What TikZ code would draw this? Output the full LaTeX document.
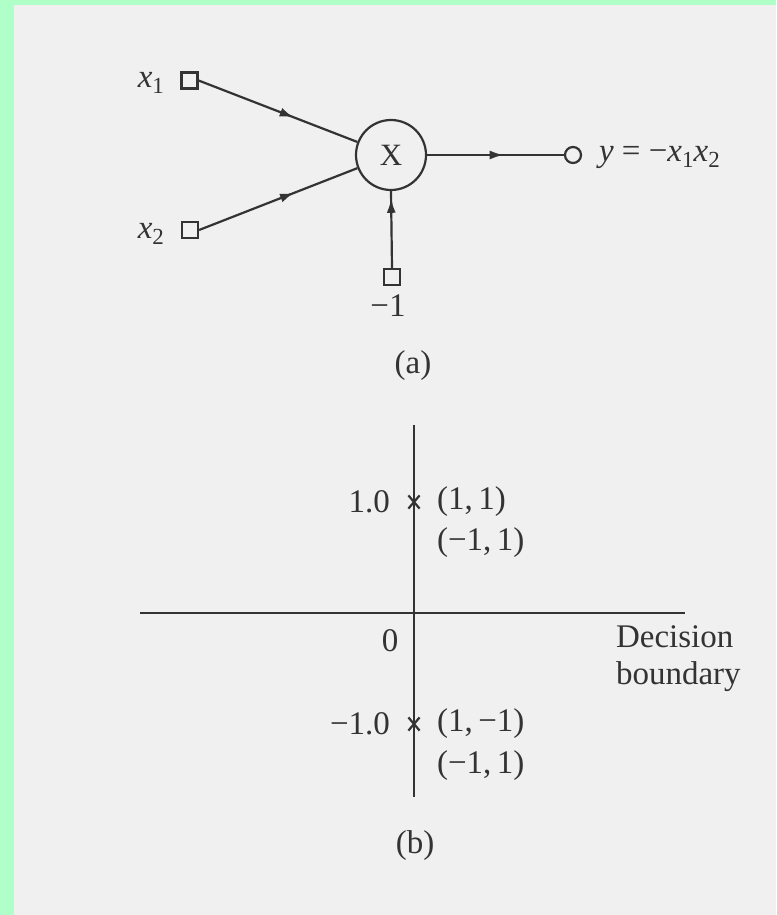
\documentclass[tikz,border=0pt]{standalone}
\usepackage{fontspec}
\setmainfont{Liberation Serif}
\usetikzlibrary{arrows.meta,decorations.markings,shapes.misc}
\definecolor{bggreen}{HTML}{B0FFC8}
\definecolor{paper}{HTML}{F0F0F0}
\definecolor{ink}{HTML}{333333}
\newcommand\sbs[1]{\raisebox{-0.45ex}{\fontsize{11.5}{12}\selectfont #1}}
\tikzset{
  every node/.style={text=ink,font=\fontsize{16.5}{20}\selectfont},
  inbox/.style={draw=ink,line width=1.1pt,rectangle,minimum size=8pt,inner sep=0pt},
  multnode/.style={draw=ink,line width=1.1pt,circle,minimum size=35pt,inner sep=0pt,font=\fontsize{15.5}{18}\selectfont},
  outnode/.style={draw=ink,line width=1.1pt,circle,minimum size=8pt,inner sep=0pt},
  conn/.style={draw=ink,line width=1.1pt},
  midarrow/.style={postaction={decorate,decoration={markings,mark=at position #1 with {\arrow[ink]{Latex[length=7pt,width=4.5pt]}}}}},
  xmark/.style={draw=ink,line width=1.1pt,cross out,minimum width=4.5pt,minimum height=5.5pt,inner sep=0pt},
  axis/.style={draw=ink,line width=1.1pt}
}
\begin{document}
\begin{tikzpicture}[x=0.5pt,y=-0.5pt]
\useasboundingbox (0,0) rectangle (776,915);
\fill[bggreen] (0,0) rectangle (776,915);
\fill[paper] (14,5) rectangle (776,915);
% ---------- (a) ----------
\node[inbox] (sq1) at (189.5,80.5) {};
\node[inbox] (sq2) at (190,230) {};
\node[inbox] (sq3) at (392,277) {};
\node[multnode] (mult) at (391,155) {X};
\node[outnode] (out) at (573,155) {};
\node[anchor=east] (lx1) at (171,83) {\textit{x}\sbs{1}};
\node[anchor=east] (lx2) at (171,234) {\textit{x}\sbs{2}};
\node (lm1) at (388,306) {−1};
\node[anchor=west] (ly) at (592,157) {\textit{y} = −\textit{x}\sbs{1}\textit{x}\sbs{2}};
\node (capa) at (413,366) {(a)};
\path[conn,midarrow=0.6] (sq1.east) -- (mult);
\path[conn,midarrow=0.6] (sq2.east) -- (mult);
\path[conn,midarrow=0.9] (sq3.north) -- (mult.south);
\path[conn,midarrow=0.56] (mult.east) -- (out.west);
% ---------- (b) ----------
\coordinate (vtop) at (414,425);
\coordinate (vbot) at (414,797);
\coordinate (hl) at (140,613);
\coordinate (hr) at (685,613);
\path[axis] (vtop) -- (vbot);
\path[axis] (hl) -- (hr);
\node[xmark] (p1) at (414,502) {};
\node[xmark] (p2) at (414,724) {};
\node[anchor=east] (t1) at (397,502) {1.0};
\node[anchor=west] (a1) at (430,502) {(1,\,1)};
\node[anchor=west] (a2) at (430,543) {(−1,\,1)};
\node (t0) at (390,641) {0};
\node[anchor=west,align=left,font=\fontsize{16.5}{18.5}\selectfont] (db) at (609,659) {Decision\\boundary};
\node[anchor=east] (t2) at (397,724) {−1.0};
\node[anchor=west] (b1) at (430,724) {(1,\,−1)};
\node[anchor=west] (b2) at (430,766) {(−1,\,1)};
\node (capb) at (415,846) {(b)};
\end{tikzpicture}
\end{document}
